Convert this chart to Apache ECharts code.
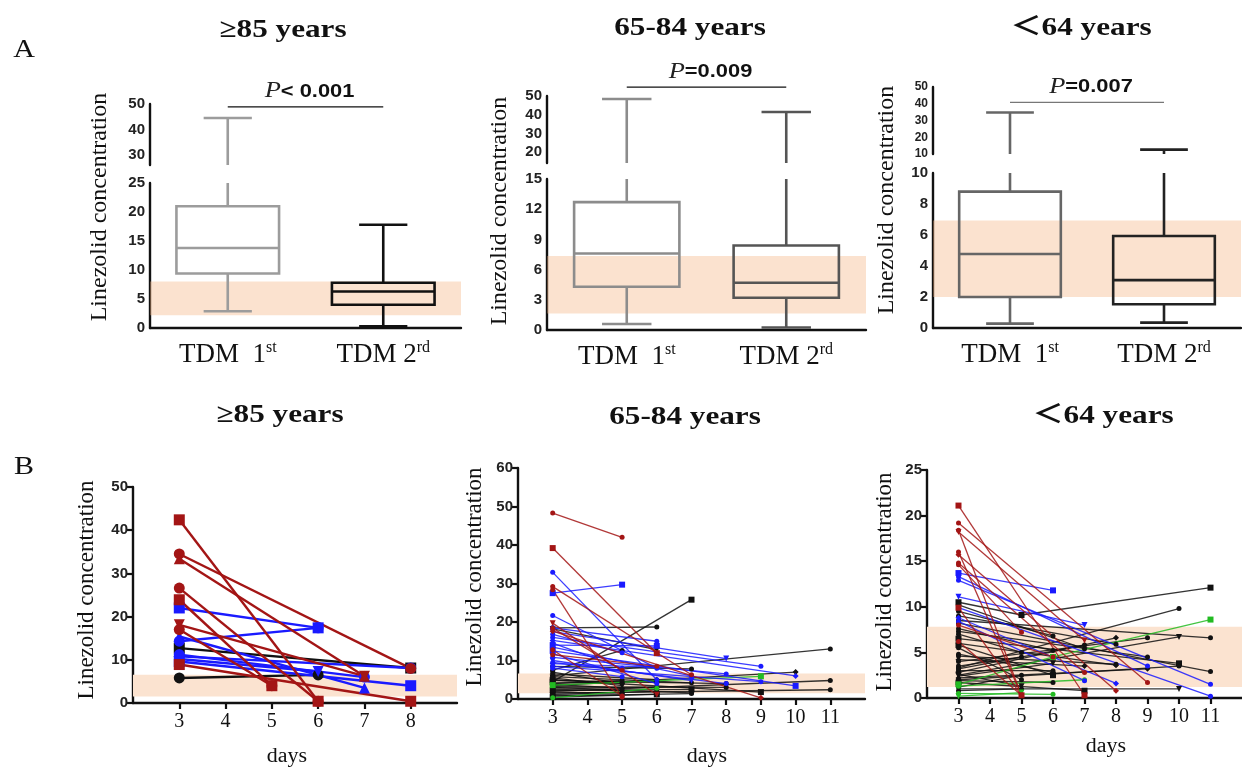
<!DOCTYPE html>
<html>
<head>
<meta charset="utf-8">
<title>Linezolid concentration</title>
<script src="https://cdn.jsdelivr.net/npm/echarts@6/dist/echarts.min.js"></script>
<style>
  html, body { margin: 0; background: #fff; }
  #main { width: 1242px; height: 768px; }
</style>
</head>
<body>
<div id="main"></div>
<script>
// ---- panel A: box stats [min, q1, median, q3, max] ----
const boxCats = ['TDM  1st', 'TDM 2rd'];
const a1Box = [[2.9, 9.4, 13.8, 21.0, 44.5], [0.3, 4.0, 6.3, 7.8, 17.8]];
const a2Box = [[0.6, 4.3, 7.6, 12.7, 48.4], [0.25, 3.2, 4.7, 8.4, 41.5]];
const a3Box = [[0.28, 2.0, 4.77, 8.8, 34.8], [0.35, 1.53, 3.09, 5.94, 12.6]];
const boxBands = [[2.2, 8.0], [1.65, 7.35], [2.0, 6.94]];
const upperRange = [[26, 50], [14.3, 50], [10, 50]];
const upperTicks = [[30, 40, 50], [20, 30, 40, 50], [10, 20, 30, 40, 50]];
const lowerMax = [25, 15, 10];
const lowerStep = [5, 3, 2];
const pTexts = ['< 0.001', '=0.009', '=0.007'];
const pLevels = [48.9, 54.7, 40.8];

// ---- panel B: one polyline per patient, [day, concentration] ----
const b1Red = [
  [[3, 42.4], [6, 0.4]], [[3, 34.5], [8, 8.0]], [[3, 33.4], [7, 6.2]], [[3, 26.6], [6, 0.4]],
  [[3, 23.9], [5, 4.0]], [[3, 18.1], [7, 6.2]], [[3, 17.0], [5, 4.0]], [[3, 8.9], [8, 0.4]]
];
const b1Blue = [
  [[3, 22.0], [6, 17.4]], [[3, 14.3], [6, 17.4]], [[3, 15.4], [7, 3.5]], [[3, 10.8], [8, 8.1]],
  [[3, 9.6], [8, 4.0]], [[3, 10.2], [6, 7.3]], [[3, 11.2], [7, 6.0]]
];
const b1Black = [[[3, 12.7], [8, 8.1]], [[3, 5.8], [6, 6.5]]];
const b1Green = [];

const b2Red = [
  [[3, 48.3], [5, 42.0]], [[3, 39.2], [6, 11.9]], [[3, 29.2], [7, 6.3]], [[3, 28.4], [5, 0.5]],
  [[3, 19.7], [6, 1.1]], [[3, 18.4], [5, 7.5]], [[3, 17.6], [9, 0.3]], [[3, 12.8], [5, 0.8]],
  [[3, 11.5], [6, 8.5]]
];
const b2Blue = [
  [[3, 32.9], [6, 5.0]], [[3, 27.5], [5, 29.7]], [[3, 21.7], [6, 8.0]], [[3, 18.5], [6, 15.0]],
  [[3, 17.5], [8, 10.5]], [[3, 16.0], [9, 8.5]], [[3, 15.2], [10, 6.0]], [[3, 14.5], [5, 8.0]],
  [[3, 13.5], [7, 6.0]], [[3, 12.5], [10, 3.4]], [[3, 11.8], [6, 4.0]], [[3, 10.8], [8, 6.5]],
  [[3, 10.0], [7, 4.8]], [[3, 9.5], [8, 4.0]], [[3, 9.2], [6, 8.2]], [[3, 8.5], [9, 4.5]],
  [[3, 8.0], [5, 5.8]], [[3, 14.0], [6, 13.8]], [[3, 16.8], [5, 12.0]]
];
const b2Black = [
  [[3, 18.5], [6, 18.7]], [[3, 4.5], [7, 25.8]], [[3, 6.0], [11, 13.0]], [[3, 7.5], [5, 12.6]],
  [[3, 18.2], [6, 12.8]], [[3, 8.5], [7, 7.8]], [[3, 3.5], [10, 7.0]], [[3, 2.0], [11, 4.8]],
  [[3, 1.5], [11, 2.4]], [[3, 5.0], [9, 1.8]], [[3, 3.0], [7, 1.6]], [[3, 7.0], [5, 4.0]],
  [[3, 5.5], [5, 3.5]], [[3, 4.2], [6, 4.5]], [[3, 3.8], [5, 2.8]], [[3, 2.8], [6, 3.0]],
  [[3, 2.5], [5, 2.2]], [[3, 2.2], [7, 2.5]], [[3, 1.8], [5, 1.5]], [[3, 1.2], [6, 2.0]],
  [[3, 1.0], [5, 1.0]], [[3, 0.8], [7, 1.4]], [[3, 6.5], [6, 5.0]], [[3, 4.8], [8, 4.0]],
  [[3, 3.2], [8, 3.0]], [[3, 0.5], [6, 1.2]], [[3, 5.8], [7, 4.2]], [[3, 4.0], [5, 4.8]]
];
const b2Green = [[[3, 0.3], [6, 2.8]], [[3, 3.6], [9, 5.9]]];

const b3Red = [
  [[3, 21.1], [7, 0.3]], [[3, 19.2], [9, 1.7]], [[3, 18.4], [5, 0.3]], [[3, 18.2], [7, 6.3]],
  [[3, 16.0], [5, 0.3]], [[3, 15.7], [8, 0.8]], [[3, 14.8], [7, 2.8]], [[3, 14.6], [5, 7.2]],
  [[3, 9.9], [5, 0.3]], [[3, 8.0], [6, 4.5]], [[3, 6.2], [5, 0.3]]
];
const b3Blue = [
  [[3, 13.7], [6, 11.8]], [[3, 13.3], [9, 3.5]], [[3, 12.9], [11, 1.5]], [[3, 11.1], [7, 8.0]],
  [[3, 9.9], [11, 0.2]], [[3, 8.8], [8, 1.6]], [[3, 8.4], [7, 1.9]]
];
const b3Black = [
  [[3, 10.5], [5, 9.1], [11, 12.1]], [[3, 3.3], [10, 9.8]], [[3, 8.5], [11, 6.6]], [[3, 2.5], [10, 6.7]],
  [[3, 4.0], [9, 6.6]], [[3, 2.8], [8, 6.6]], [[3, 9.0], [8, 5.9]], [[3, 7.3], [9, 4.5]],
  [[3, 6.5], [10, 3.8]], [[3, 2.0], [10, 3.5]], [[3, 8.2], [11, 2.9]], [[3, 1.0], [10, 1.0]],
  [[3, 4.6], [8, 3.7]], [[3, 2.2], [9, 3.2]], [[3, 7.6], [6, 5.2]], [[3, 3.0], [6, 3.0]],
  [[3, 1.7], [7, 0.8]], [[3, 5.5], [5, 2.0]], [[3, 3.5], [5, 4.5]], [[3, 2.6], [5, 1.3]],
  [[3, 1.9], [6, 1.7]], [[3, 4.2], [7, 3.5]], [[3, 10.2], [7, 5.4]], [[3, 7.0], [5, 5.0]],
  [[3, 5.8], [6, 2.5]], [[3, 3.2], [7, 5.8]], [[3, 1.2], [5, 2.5]], [[3, 2.4], [6, 3.8]],
  [[3, 9.5], [6, 6.8]], [[3, 6.0], [8, 3.6]], [[3, 0.8], [5, 1.0]], [[3, 4.8], [6, 2.8]]
];
const b3Green = [[[3, 1.5], [6, 4.5], [11, 8.6]], [[3, 0.5], [6, 0.4]], [[3, 1.3], [7, 2.0]], [[3, 0.2], [5, 0.6]]];

const dayTicks = [[3, 4, 5, 6, 7, 8], [3, 4, 5, 6, 7, 8, 9, 10, 11], [3, 4, 5, 6, 7, 8, 9, 10, 11]];
const dayRange = [[2, 9], [2, 12], [2, 12]];
const concMax = [50, 60, 25];
const concStep = [10, 10, 5];
const lineBands = [[1.5, 6.55], [1.5, 6.6], [1.2, 7.8]];

// ---- layout ----
const boxGrids = [
  [{ left: 150, top: 104, width: 311, height: 61 }, { left: 150, top: 183, width: 311, height: 145 }],
  [{ left: 547, top: 96, width: 319, height: 67 }, { left: 547, top: 179, width: 319, height: 151 }],
  [{ left: 933, top: 87, width: 308, height: 67 }, { left: 933, top: 173, width: 308, height: 155 }]
];
const lineGrids = [
  { left: 133, top: 487, width: 324, height: 216 },
  { left: 518, top: 468, width: 347, height: 231 },
  { left: 927, top: 470, width: 321, height: 228 }
];
const boxColors = [['#9c9c9c', '#111111'], ['#8c8c8c', '#555555'], ['#666666', '#222222']];
const serif = '"Liberation Serif", "Noto Sans CJK SC", serif';
const sans = '"Liberation Sans", Arial, sans-serif';
const axisLine = { lineStyle: { color: '#111', width: 2.4 } };
const tickStyle = { lineStyle: { color: '#111', width: 2.2 }, length: 6 };

const chart = echarts.init(document.getElementById('main'));

function boxRender(colors) {
  return function (params, api) {
    const idx = api.value(0);
    const cs = params.coordSys;
    const top = cs.y, bot = cs.y + cs.height;
    const cl = y => Math.min(bot, Math.max(top, y));
    const inR = y => y >= top - 0.5 && y <= bot + 0.5;
    const cx = api.coord([idx, 0])[0];
    const band = api.size([1, 0])[0];
    const bw = band * 0.66, cw = band * 0.31;
    const y = [1, 2, 3, 4, 5].map(d => api.coord([idx, api.value(d)])[1]);
    const st = { stroke: colors[idx], lineWidth: 2.6, fill: 'rgba(0,0,0,0)' };
    const kids = [];
    const seg = (x1, y1, x2, y2) => kids.push({ type: 'line', shape: { x1, y1, x2, y2 }, style: st });
    const bTop = cl(y[3]), bBot = cl(y[1]);
    if (bBot - bTop > 0.5) kids.push({ type: 'rect', shape: { x: cx - bw / 2, y: bTop, width: bw, height: bBot - bTop }, style: st });
    if (inR(y[2])) seg(cx - bw / 2, y[2], cx + bw / 2, y[2]);
    if (bTop - cl(y[4]) > 0.5) seg(cx, bTop, cx, cl(y[4]));
    if (cl(y[0]) - bBot > 0.5) seg(cx, bBot, cx, cl(y[0]));
    if (inR(y[4])) seg(cx - cw / 2, y[4], cx + cw / 2, y[4]);
    if (inR(y[0])) seg(cx - cw / 2, y[0], cx + cw / 2, y[0]);
    return { type: 'group', children: kids };
  };
}

const grid = [], xAxis = [], yAxis = [], series = [];
const boxSets = [a1Box, a2Box, a3Box];

boxSets.forEach((stats, k) => {
  const data = stats.map((s, i) => [i].concat(s));
  // upper (broken) part, then lower part
  [0, 1].forEach(part => {
    const gi = grid.length;
    grid.push(boxGrids[k][part]);
    if (part === 0) {
      xAxis.push({ type: 'category', gridIndex: gi, data: boxCats, show: false });
      yAxis.push({
        type: 'value', gridIndex: gi, min: upperRange[k][0], max: upperRange[k][1],
        splitLine: { show: false }, axisLine: Object.assign({ show: true }, axisLine),
        axisTick: Object.assign({ customValues: [upperRange[k][0]].concat(upperTicks[k]) }, tickStyle),
        axisLabel: {
          customValues: upperTicks[k], margin: 5, color: '#222', fontFamily: sans,
          fontWeight: 'bold', fontSize: k === 2 ? 12 : 15
        }
      });
    } else {
      xAxis.push({
        type: 'category', gridIndex: gi, data: boxCats,
        axisLine: axisLine, axisTick: Object.assign({ alignWithLabel: true }, tickStyle),
        axisLabel: {
          margin: 12, color: '#111',
          formatter: v => '{a|' + v.replace(/(st|rd)$/, '}{s|$1}'),
          rich: {
            a: { fontFamily: serif, fontSize: 27, color: '#111' },
            s: { fontFamily: serif, fontSize: 16, color: '#111', padding: [0, 0, 14, 0] }
          }
        }
      });
      yAxis.push({
        type: 'value', gridIndex: gi, min: 0, max: lowerMax[k], interval: lowerStep[k],
        splitLine: { show: false }, axisLine: Object.assign({ show: true }, axisLine), axisTick: tickStyle,
        axisLabel: { margin: 5, color: '#222', fontFamily: sans, fontWeight: 'bold', fontSize: 15 }
      });
    }
    series.push({
      type: 'custom', xAxisIndex: gi, yAxisIndex: gi, data: data, z: 2,
      encode: { x: 0, y: [1, 2, 3, 4, 5] }, renderItem: boxRender(boxColors[k]), silent: true
    });
    if (part === 1) {
      series.push({
        type: 'line', xAxisIndex: gi, yAxisIndex: gi, data: [], z: 5, silent: true,
        markArea: {
          silent: true, itemStyle: { color: 'rgba(245,180,130,0.38)' },
          data: [[{ yAxis: boxBands[k][0] }, { yAxis: boxBands[k][1] }]]
        }
      });
    }
  });
});

const lineSets = [
  { black: b1Black, green: b1Green, blue: b1Blue, red: b1Red },
  { black: b2Black, green: b2Green, blue: b2Blue, red: b2Red },
  { black: b3Black, green: b3Green, blue: b3Blue, red: b3Red }
];
const groupColors = { black: '#111111', green: '#22bb22', blue: '#1a1aff', red: '#a31515' };
const bigSymbols = ['rect', 'circle', 'triangle', 'circle', 'rect', 'down', 'circle'];
const smallSymbols = ['circle', 'circle', 'rect', 'circle', 'circle', 'down', 'circle', 'diamond'];

lineSets.forEach((set, k) => {
  const gi = grid.length;
  grid.push(lineGrids[k]);
  xAxis.push({
    type: 'value', gridIndex: gi, min: dayRange[k][0], max: dayRange[k][1],
    splitLine: { show: false }, axisLine: axisLine,
    axisTick: Object.assign({ customValues: dayTicks[k] }, tickStyle),
    axisLabel: { customValues: dayTicks[k], margin: 9, color: '#111', fontFamily: serif, fontSize: 20 }
  });
  yAxis.push({
    type: 'value', gridIndex: gi, min: 0, max: concMax[k], interval: concStep[k],
    splitLine: { show: false }, axisLine: Object.assign({ show: true }, axisLine), axisTick: tickStyle,
    axisLabel: { margin: 5, color: '#222', fontFamily: sans, fontWeight: 'bold', fontSize: 15 }
  });
  series.push({
    type: 'line', xAxisIndex: gi, yAxisIndex: gi, data: [], z: 1, silent: true,
    markArea: { silent: true, itemStyle: { color: '#fbe3d0' }, data: [[{ yAxis: lineBands[k][0] }, { yAxis: lineBands[k][1] }]] }
  });
  const big = k === 0;
  const syms = big ? bigSymbols : smallSymbols;
  ['black', 'green', 'blue', 'red'].forEach(g => {
    set[g].forEach((pts, i) => {
      const sym = syms[(i + k) % syms.length];
      series.push({
        type: 'line', xAxisIndex: gi, yAxisIndex: gi, data: pts, z: 3, silent: true,
        symbol: sym === 'down' ? 'triangle' : sym, symbolRotate: sym === 'down' ? 180 : 0,
        symbolSize: big ? 11 : (sym === 'circle' ? 5 : 6), showSymbol: true,
        lineStyle: { color: groupColors[g], width: big ? 2.4 : 1.3, opacity: big ? 1 : 0.85 },
        itemStyle: { color: groupColors[g] }
      });
    });
  });
});

chart.setOption({ animation: false, backgroundColor: '#fff', grid, xAxis, yAxis, series });

// ---- text and P-value brackets ----
const txt = (x, y, text, size, opts) => Object.assign({
  type: 'text', x: x, y: y, silent: true,
  style: Object.assign({ text: text, fontFamily: serif, fontSize: size, fill: '#111', align: 'center', verticalAlign: 'middle' }, (opts && opts.style) || {})
}, (opts && opts.el) || {});

const graphic = [
  txt(24, 50, 'A', 25, { el: { scaleX: 1.2 } }),
  txt(24, 467, 'B', 25, { el: { scaleX: 1.2 } }),
  txt(283, 30, '≥85 years', 26, { style: { fontWeight: 'bold' }, el: { scaleX: 1.2 } }),
  txt(690, 28, '65-84 years', 26, { style: { fontWeight: 'bold' }, el: { scaleX: 1.2 } }),
  txt(1081, 28, '＜64 years', 26, { style: { fontWeight: 'bold' }, el: { scaleX: 1.2 } }),
  txt(280, 415, '≥85 years', 26, { style: { fontWeight: 'bold' }, el: { scaleX: 1.2 } }),
  txt(685, 417, '65-84 years', 26, { style: { fontWeight: 'bold' }, el: { scaleX: 1.2 } }),
  txt(1103, 416, '＜64 years', 26, { style: { fontWeight: 'bold' }, el: { scaleX: 1.2 } }),
  txt(100, 207, 'Linezolid concentration', 24, { el: { rotation: Math.PI / 2 } }),
  txt(500, 211, 'Linezolid concentration', 24, { el: { rotation: Math.PI / 2 } }),
  txt(887, 200, 'Linezolid concentration', 24, { el: { rotation: Math.PI / 2 } }),
  txt(87, 590, 'Linezolid concentration', 23, { el: { rotation: Math.PI / 2 } }),
  txt(475, 577, 'Linezolid concentration', 23, { el: { rotation: Math.PI / 2 } }),
  txt(885, 582, 'Linezolid concentration', 23, { el: { rotation: Math.PI / 2 } }),
  txt(287, 757, 'days', 20, { el: { scaleX: 1.1 } }),
  txt(707, 757, 'days', 20, { el: { scaleX: 1.1 } }),
  txt(1106, 747, 'days', 20, { el: { scaleX: 1.1 } })
];

pTexts.forEach((t, k) => {
  const gi = k * 2;
  const p0 = chart.convertToPixel({ xAxisIndex: gi, yAxisIndex: gi }, [0, pLevels[k]]);
  const p1 = chart.convertToPixel({ xAxisIndex: gi, yAxisIndex: gi }, [1, pLevels[k]]);
  graphic.push({
    type: 'line', silent: true,
    shape: { x1: p0[0], y1: p0[1], x2: p1[0], y2: p1[1] },
    style: { stroke: k === 2 ? '#777' : '#111', lineWidth: 1.3 }
  });
  graphic.push({
    type: 'text', silent: true, x: (p0[0] + p1[0]) / 2 + 4, y: p0[1] - 4, scaleX: 1.15,
    style: {
      text: '{i|P}{b|' + t + '}', align: 'center', verticalAlign: 'bottom',
      rich: {
        i: { fontFamily: serif, fontStyle: 'italic', fontSize: 23, fill: '#222' },
        b: { fontFamily: sans, fontWeight: 'bold', fontSize: 19, fill: '#111' }
      }
    }
  });
});

chart.setOption({ graphic: graphic });
</script>
</body>
</html>
